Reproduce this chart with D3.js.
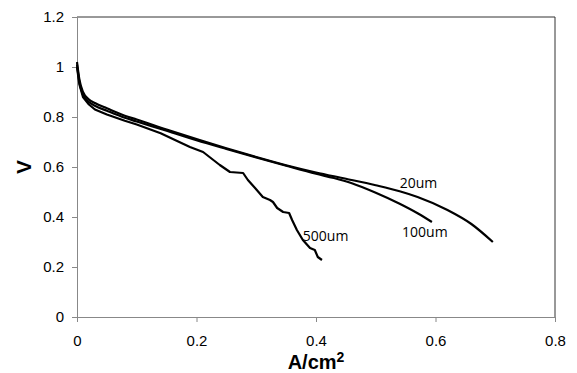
<!DOCTYPE html>
<html>
<head>
<meta charset="utf-8">
<script src="https://cdn.jsdelivr.net/npm/d3@7"></script>
<style>
  body { margin: 0; background: #fff; }
  svg { display: block; }
  .curve-label { font-family: "Open Sans", sans-serif; font-size: 14px; fill: #000; }
</style>
</head>
<body>
<svg id="chart" width="577" height="373"></svg>
<script>
const svg = d3.select("#chart");

const margin = { top: 17, right: 22, bottom: 56, left: 77 };
const width = +svg.attr("width");
const height = +svg.attr("height");
const innerWidth = width - margin.left - margin.right;
const innerHeight = height - margin.top - margin.bottom;

// tick values
const xTicks = [0, 0.2, 0.4, 0.6, 0.8];
const yTicks = [0, 0.2, 0.4, 0.6, 0.8, 1, 1.2];

// polarization curves [A/cm2, V]
const curve20 = [
  [0, 1.02], [0.004, 0.95], [0.01, 0.9], [0.02, 0.87], [0.03, 0.856], [0.05, 0.835],
  [0.08, 0.805], [0.1, 0.79], [0.15, 0.75], [0.2, 0.712], [0.25, 0.675], [0.3, 0.64],
  [0.35, 0.607], [0.4, 0.578], [0.45, 0.553], [0.5, 0.527], [0.54, 0.503], [0.57, 0.48],
  [0.62, 0.428], [0.66, 0.372], [0.696, 0.3]
];
const curve100 = [
  [0, 1.01], [0.004, 0.94], [0.01, 0.89], [0.02, 0.86], [0.03, 0.845], [0.05, 0.825],
  [0.08, 0.797], [0.1, 0.782], [0.15, 0.745], [0.2, 0.707], [0.25, 0.672], [0.3, 0.638],
  [0.35, 0.605], [0.4, 0.573], [0.43, 0.556], [0.46, 0.535], [0.5, 0.497], [0.54, 0.453],
  [0.57, 0.415], [0.594, 0.38]
];
const curve500 = [
  [0, 1.0], [0.004, 0.93], [0.01, 0.88], [0.02, 0.85], [0.03, 0.83], [0.05, 0.81],
  [0.08, 0.785], [0.1, 0.77], [0.14, 0.735], [0.164, 0.708], [0.189, 0.68], [0.211, 0.66],
  [0.239, 0.608], [0.256, 0.58], [0.278, 0.576], [0.286, 0.548], [0.298, 0.516],
  [0.311, 0.48], [0.323, 0.468], [0.328, 0.46], [0.335, 0.436], [0.345, 0.42],
  [0.355, 0.416], [0.36, 0.388], [0.368, 0.348], [0.378, 0.308], [0.39, 0.276],
  [0.398, 0.268], [0.403, 0.24], [0.41, 0.228]
];

const series = [
  { name: "20um", values: curve20, label: [0.54, 0.516], smooth: true },
  { name: "100um", values: curve100, label: [0.544, 0.32], smooth: true },
  { name: "500um", values: curve500, label: [0.378, 0.304], smooth: false }
];

const x = d3.scaleLinear().domain([0, 0.8]).range([0, innerWidth]);
const y = d3.scaleLinear().domain([0, 1.2]).range([innerHeight, 0]);

const g = svg.append("g")
  .attr("transform", `translate(${margin.left}, ${margin.top})`);

// frame (top and right)
g.append("path")
  .attr("d", `M0,0H${innerWidth}V${innerHeight}`)
  .attr("fill", "none")
  .attr("stroke", "#333")
  .attr("stroke-width", 1);

const xAxis = g.append("g")
  .attr("transform", `translate(0, ${innerHeight})`)
  .call(d3.axisBottom(x).tickValues(xTicks).tickSize(5).tickPadding(13).tickFormat(d3.format("")));

const yAxis = g.append("g")
  .call(d3.axisLeft(y).tickValues(yTicks).tickSize(5).tickPadding(8).tickFormat(d3.format("")));

[xAxis, yAxis].forEach(ax => {
  ax.attr("font-family", "Liberation Sans, Arial, sans-serif")
    .attr("font-size", 15);
  ax.select(".domain").attr("stroke", "#888");
  ax.selectAll(".tick line").attr("stroke", "#888");
  ax.selectAll(".tick text").attr("fill", "#000");
});

const smoothLine = d3.line()
  .x(d => x(d[0]))
  .y(d => y(d[1]))
  .curve(d3.curveMonotoneX);

const roughLine = d3.line()
  .x(d => x(d[0]))
  .y(d => y(d[1]));

g.selectAll(".curve")
  .data(series)
  .join("path")
  .attr("class", "curve")
  .attr("d", d => d.smooth ? smoothLine(d.values) : roughLine(d.values))
  .attr("fill", "none")
  .attr("stroke", "#000")
  .attr("stroke-width", 2.2)
  .attr("stroke-linejoin", "round");

g.selectAll(".curve-label")
  .data(series)
  .join("text")
  .attr("class", "curve-label")
  .attr("x", d => x(d.label[0]))
  .attr("y", d => y(d.label[1]))
  .text(d => d.name);

// axis titles
const xTitle = svg.append("text")
  .attr("x", 316)
  .attr("y", 369)
  .attr("text-anchor", "middle")
  .style("font-family", "Liberation Sans, Arial, sans-serif")
  .style("font-weight", "bold")
  .style("font-size", "20px")
  .text("A/cm");
xTitle.append("tspan")
  .attr("dy", "-7")
  .style("font-size", "14px")
  .text("2");

svg.append("text")
  .attr("transform", "translate(31, 167) rotate(-90)")
  .attr("text-anchor", "middle")
  .style("font-family", "Liberation Sans, Arial, sans-serif")
  .style("font-weight", "bold")
  .style("font-size", "21px")
  .text("V");
</script>
</body>
</html>
